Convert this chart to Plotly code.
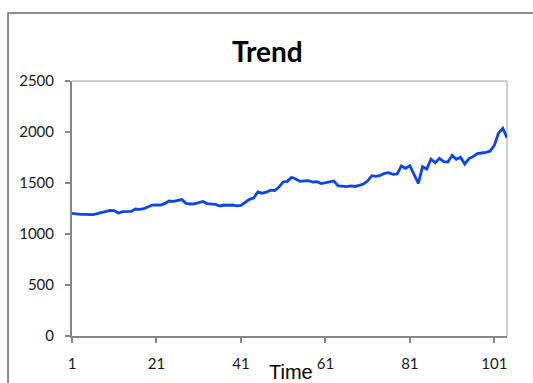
import plotly.graph_objects as go

# Series: one reading per time step
time_steps = list(range(1, 105))
values = [
    1203, 1195, 1192, 1193, 1192, 1190, 1200, 1212, 1222, 1232,
    1228, 1206, 1219, 1220, 1222, 1245, 1242, 1248, 1270, 1284,
    1285, 1283, 1300, 1323, 1320, 1328, 1337, 1300, 1294, 1296,
    1305, 1319, 1298, 1292, 1290, 1275, 1284, 1282, 1284, 1275,
    1281, 1310, 1340, 1353, 1412, 1400, 1410, 1430, 1425, 1460,
    1510, 1516, 1556, 1540, 1516, 1520, 1523, 1508, 1513, 1495,
    1500, 1510, 1520, 1471, 1470, 1464, 1472, 1466, 1476, 1490,
    1520, 1572, 1565, 1575, 1595, 1601, 1585, 1588, 1667, 1644,
    1670, 1588, 1497, 1660, 1637, 1735, 1699, 1742, 1710, 1706,
    1771, 1732, 1752, 1686, 1739, 1760, 1788, 1794, 1800, 1814,
    1870, 1990, 2036, 1944,
]

x_tick_vals = [1, 21, 41, 61, 81, 101]
y_tick_vals = [0, 500, 1000, 1500, 2000, 2500]

title_text = "Trend"
x_title = "Time"

AXIS_GREY = "#868686"
FRAME_GREY = "#bfbfbf"
OUTER_GREY = "#8c8c8c"
TICK_FONT = dict(family="Lato", size=15, color="#1a1a1a")

x_range = [time_steps[0], time_steps[-1]]
y_range = [y_tick_vals[0], y_tick_vals[-1]]

fig = go.Figure()
fig.add_trace(go.Scatter(
    x=time_steps, y=values, mode="lines",
    line=dict(color="#0a46ea", width=2.8),
    hoverinfo="skip", showlegend=False,
))

fig.update_layout(
    width=533, height=383,
    margin=dict(l=72, r=26, t=81, b=47),
    paper_bgcolor="white", plot_bgcolor="white",
    showlegend=False,
    xaxis=dict(
        range=x_range, tickvals=x_tick_vals, ticktext=[str(v) for v in x_tick_vals],
        showgrid=False, zeroline=False,
        showline=True, linecolor=AXIS_GREY, linewidth=2,
        ticks="outside", ticklen=5, tickwidth=1.5, tickcolor=AXIS_GREY,
        tickfont=TICK_FONT, ticklabelstandoff=8,
    ),
    yaxis=dict(
        range=y_range, tickvals=y_tick_vals,
        showgrid=False, zeroline=False,
        showline=True, linecolor=AXIS_GREY, linewidth=2,
        ticks="outside", ticklen=5, tickwidth=1.5, tickcolor=AXIS_GREY,
        tickfont=TICK_FONT, ticklabelstandoff=8,
    ),
    # inner halves of the crossing tick marks
    xaxis2=dict(
        overlaying="x", range=x_range, tickvals=x_tick_vals,
        showticklabels=False, showgrid=False, zeroline=False, showline=False,
        ticks="inside", ticklen=4, tickwidth=1.5, tickcolor=AXIS_GREY,
    ),
    yaxis2=dict(
        overlaying="y", range=y_range, tickvals=y_tick_vals,
        showticklabels=False, showgrid=False, zeroline=False, showline=False,
        ticks="inside", ticklen=4, tickwidth=1.5, tickcolor=AXIS_GREY,
    ),
)

# plot-area frame (top and right) and outer chart border
fig.add_shape(type="line", xref="paper", yref="paper", x0=0, x1=1, y0=1, y1=1,
              line=dict(color=FRAME_GREY, width=1.5), layer="below")
fig.add_shape(type="line", xref="paper", yref="paper", x0=1, x1=1, y0=0, y1=1,
              line=dict(color=FRAME_GREY, width=1.5), layer="below")
fig.add_shape(type="rect", xref="paper", yref="paper",
              x0=-0.147, x1=1.08, y0=-0.22, y1=1.267,
              line=dict(color=OUTER_GREY, width=2))

fig.add_annotation(
    text=f"<b>{title_text}</b>", xref="paper", yref="paper",
    x=(267 - 72) / 435, y=(336 - 51) / 255, xanchor="center", yanchor="middle",
    showarrow=False, font=dict(family="Lato", size=28, color="black"),
)
fig.add_annotation(
    text=x_title, xref="paper", yref="paper",
    x=(290.5 - 72) / 435, y=(336 - 359) / 255, xanchor="center", yanchor="top",
    showarrow=False, font=dict(family="Liberation Sans", size=20, color="black"),
)

fig.write_html("out.html")
